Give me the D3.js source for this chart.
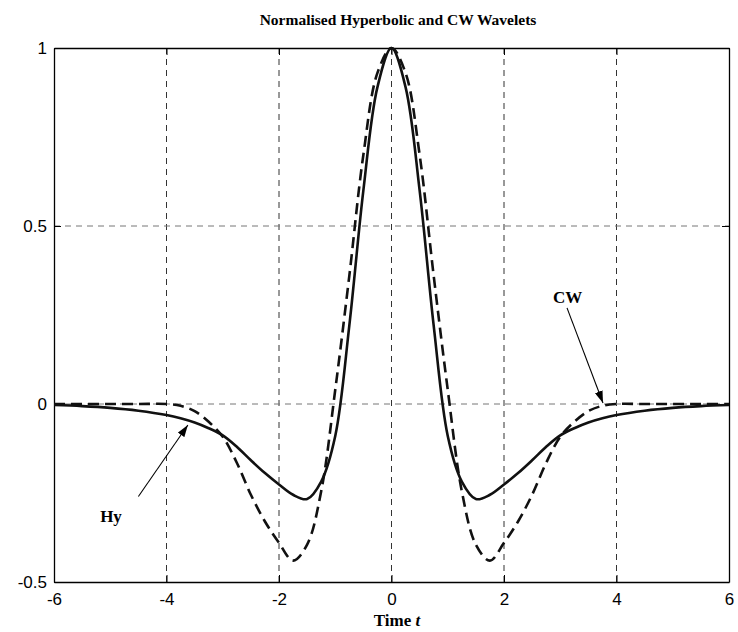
<!DOCTYPE html>
<html>
<head>
<meta charset="utf-8">
<script src="https://cdn.jsdelivr.net/npm/d3@7"></script>
<style>
  body { margin: 0; background: #fff; }
  svg { display: block; }
</style>
</head>
<body>
<svg id="chart"></svg>
<script>
var width = 738, height = 632;

// sample times and values
var times = [-6, -5.5, -5, -4.5, -4, -3.75, -3.5, -3.25, -3, -2.75, -2.5, -2.25, -2, -1.75, -1.5, -1.25, -1, -0.75, -0.5, -0.25,
             0, 0.25, 0.5, 0.75, 1, 1.25, 1.5, 1.75, 2, 2.25, 2.5, 2.75, 3, 3.25, 3.5, 3.75, 4, 4.5, 5, 5.5, 6];
var hyValues = [-0.003, -0.006, -0.011, -0.019, -0.031, -0.04, -0.052, -0.068, -0.088, -0.12, -0.158, -0.194, -0.226, -0.255, -0.267, -0.218, -0.09, 0.22, 0.6, 0.89,
                1, 0.89, 0.6, 0.22, -0.09, -0.218, -0.267, -0.255, -0.226, -0.194, -0.158, -0.12, -0.088, -0.068, -0.052, -0.04, -0.031, -0.019, -0.011, -0.006, -0.003];
var cwValues = [0, 0, 0, 0, 0, -0.005, -0.02, -0.05, -0.092, -0.165, -0.255, -0.33, -0.39, -0.44, -0.395, -0.245, 0.04, 0.36, 0.7, 0.93,
                1, 0.93, 0.7, 0.36, 0.04, -0.245, -0.395, -0.44, -0.39, -0.33, -0.255, -0.165, -0.092, -0.05, -0.02, -0.005, 0, 0, 0, 0, 0];

var xTicks = [-6, -4, -2, 0, 2, 4, 6];
var xTickLabels = ["-6", "-4", "-2", "0", "2", "4", "6"];
var yTicks = [-0.5, 0, 0.5, 1];
var yTickLabels = ["-0.5", "0", "0.5", "1"];

// annotations: label text position, arrow start and tip (data units)
var labels = [
  {name: "Hy", tx: -5.18, ty: -0.331, anchor: "start", x1: -4.5, y1: -0.26, x2: -3.62, y2: -0.059},
  {name: "CW", tx: 3.39, ty: 0.284, anchor: "end", x1: 3.12, y1: 0.27, x2: 3.76, y2: 0.003}
];

var svg = d3.select("#chart")
    .attr("width", width)
    .attr("height", height);

svg.append("rect").attr("width", width).attr("height", height).attr("fill", "#fff");

var x = d3.scaleLinear().domain([-6, 6]).range([54, 729]);
var y = d3.scaleLinear().domain([-0.5, 1]).range([582, 48]);

// grid
svg.append("g").selectAll("line")
    .data(xTicks.slice(1, -1))
    .join("line")
    .attr("x1", d => x(d)).attr("x2", d => x(d))
    .attr("y1", y(1)).attr("y2", y(-0.5))
    .attr("stroke", "#333")
    .attr("stroke-width", 1)
    .attr("stroke-dasharray", "6,5");

svg.append("g").selectAll("line")
    .data(yTicks.slice(1, -1))
    .join("line")
    .attr("x1", x(-6)).attr("x2", x(6))
    .attr("y1", d => y(d)).attr("y2", d => y(d))
    .attr("stroke", "#777")
    .attr("stroke-width", 1)
    .attr("stroke-dasharray", "6,5");

// axes, inward ticks on all four sides
var tickFont = "'Liberation Sans', Arial, sans-serif";

var gx = svg.append("g")
    .attr("transform", "translate(0," + y(-0.5) + ")")
    .call(d3.axisBottom(x).tickValues(xTicks).tickFormat((d, i) => xTickLabels[i]).tickSize(-7).tickSizeOuter(0).tickPadding(11));
var gy = svg.append("g")
    .attr("transform", "translate(" + x(-6) + ",0)")
    .call(d3.axisLeft(y).tickValues(yTicks).tickFormat((d, i) => yTickLabels[i]).tickSize(-7).tickSizeOuter(0).tickPadding(7));
var gt = svg.append("g")
    .attr("transform", "translate(0," + y(1) + ")")
    .call(d3.axisTop(x).tickValues(xTicks).tickFormat("").tickSize(-7).tickSizeOuter(0));
var gr = svg.append("g")
    .attr("transform", "translate(" + x(6) + ",0)")
    .call(d3.axisRight(y).tickValues(yTicks).tickFormat("").tickSize(-7).tickSizeOuter(0));

[gx, gy, gt, gr].forEach(function (g) {
  g.select(".domain").attr("stroke", "#000").attr("stroke-width", 1.3);
  g.selectAll(".tick line").attr("stroke", "#000");
  g.selectAll(".tick text")
      .attr("fill", "#000")
      .style("font-family", tickFont)
      .style("font-size", "17px");
});

// curves
var line = d3.line()
    .x(d => x(d[0]))
    .y(d => y(d[1]))
    .curve(d3.curveCatmullRom.alpha(0.5));

svg.append("path")
    .datum(times.map((t, i) => [t, cwValues[i]]))
    .attr("d", line)
    .attr("fill", "none")
    .attr("stroke", "#111")
    .attr("stroke-width", 2.6)
    .attr("stroke-dasharray", "11,6");

svg.append("path")
    .datum(times.map((t, i) => [t, hyValues[i]]))
    .attr("d", line)
    .attr("fill", "none")
    .attr("stroke", "#111")
    .attr("stroke-width", 2.6);

// arrows and labels
svg.append("defs").append("marker")
    .attr("id", "head")
    .attr("viewBox", "0 0 12 8")
    .attr("refX", 12).attr("refY", 4)
    .attr("markerWidth", 12).attr("markerHeight", 8)
    .attr("markerUnits", "userSpaceOnUse")
    .attr("orient", "auto")
    .append("path")
    .attr("d", "M0,0L12,4L0,8Z")
    .attr("fill", "#000");

svg.append("g").selectAll("line")
    .data(labels)
    .join("line")
    .attr("x1", d => x(d.x1)).attr("y1", d => y(d.y1))
    .attr("x2", d => x(d.x2)).attr("y2", d => y(d.y2))
    .attr("stroke", "#000")
    .attr("stroke-width", 1.1)
    .attr("marker-end", "url(#head)");

svg.append("g").selectAll("text")
    .data(labels)
    .join("text")
    .attr("x", d => x(d.tx)).attr("y", d => y(d.ty))
    .attr("text-anchor", d => d.anchor)
    .style("font-family", "'Liberation Serif', 'Times New Roman', serif")
    .style("font-weight", "bold")
    .style("font-size", "17px")
    .text(d => d.name);

// title and x label
svg.append("text")
    .attr("x", 398).attr("y", 25)
    .attr("text-anchor", "middle")
    .style("font-family", "'Liberation Serif', 'Times New Roman', serif")
    .style("font-weight", "bold")
    .style("font-size", "15.5px")
    .text("Normalised Hyperbolic and CW Wavelets");

var xl = svg.append("text")
    .attr("x", 397).attr("y", 626)
    .attr("text-anchor", "middle")
    .style("font-family", "'Liberation Serif', 'Times New Roman', serif")
    .style("font-weight", "bold")
    .style("font-size", "17px");
xl.append("tspan").text("Time ");
xl.append("tspan").style("font-style", "italic").text("t");
</script>
</body>
</html>
